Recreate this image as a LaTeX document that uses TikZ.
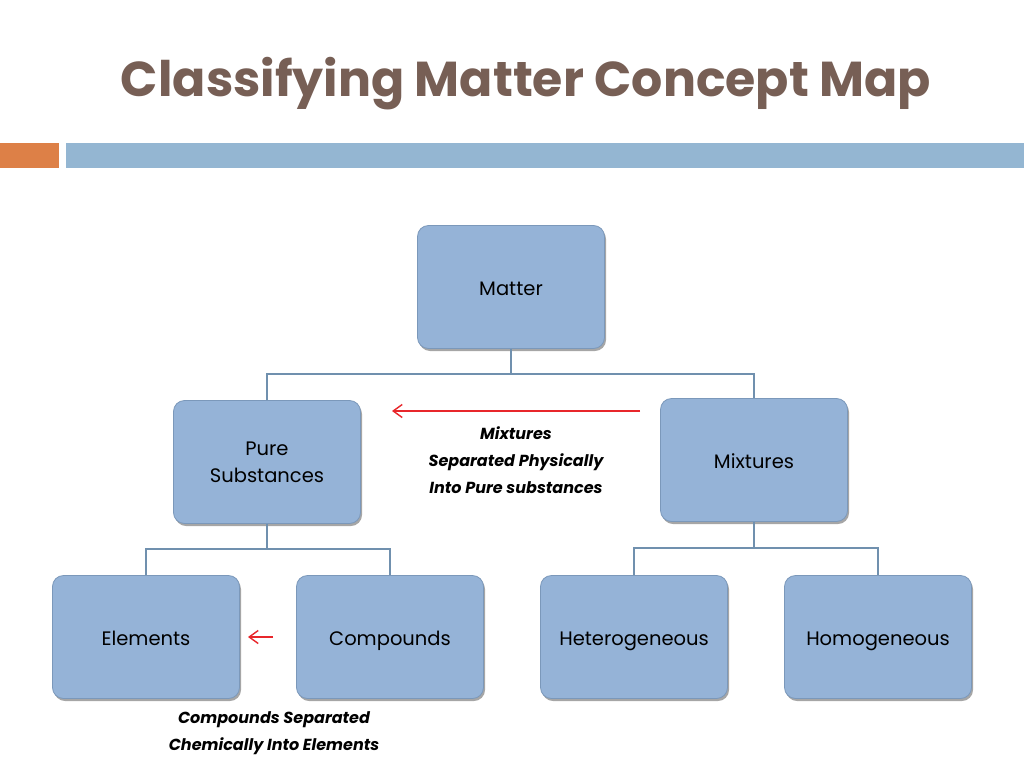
\documentclass[tikz,border=0pt]{standalone}
\usepackage{fontspec}
\setmainfont{Poppins}
\usetikzlibrary{shadows,arrows.meta}
\definecolor{boxfill}{HTML}{95B3D7}
\definecolor{boxline}{HTML}{7B98BA}
\definecolor{conn}{HTML}{7090AE}
\definecolor{titlec}{HTML}{775F55}
\definecolor{barorange}{HTML}{DD8047}
\definecolor{barblue}{HTML}{94B6D2}
\definecolor{arrred}{HTML}{E8262B}
\tikzset{
  concept/.style={draw=boxline, line width=0.8pt, fill=boxfill, rounded corners=11pt,
    minimum width=187pt, minimum height=123pt, align=center, font=\fontsize{19.5}{27}\selectfont,
    text=black, drop shadow={shadow xshift=1.5pt, shadow yshift=-2.5pt, opacity=0.35, fill=black}},
  oneline/.style={concept, text height=21pt, text depth=4pt},
  link/.style={draw=conn, line width=2pt},
  redarrow/.style={draw=arrred, line width=1.4pt, -{Straight Barb[length=9pt,width=13pt]}},
  note/.style={align=center, font=\fontsize{16}{27}\selectfont\bfseries\itshape, text=black}
}
\begin{document}
\begin{tikzpicture}[x=1pt,y=-1pt]
\useasboundingbox (0,0) rectangle (1024,768);
\fill[white] (0,0) rectangle (1024,768);
% header
\node[font=\fontsize{49}{58}\selectfont\bfseries, text=titlec] (title) at (526,84) {Classifying Matter Concept Map};
\fill[barorange] (0,143) rectangle (59,168);
\fill[barblue] (66,143) rectangle (1024,168);
% nodes
\node[oneline] (matter) at (511,287) {Matter};
\node[concept] (pure) at (267,462) {Pure\\Substances};
\node[oneline] (mix) at (754,460) {Mixtures};
\node[oneline] (elem) at (146,637) {Elements};
\node[oneline] (comp) at (390,637) {Compounds};
\node[oneline] (het) at (634,637) {Heterogeneous};
\node[oneline] (hom) at (878,637) {Homogeneous};
% connectors
\coordinate (j1) at (511,374);
\coordinate (j2) at (267,549);
\coordinate (j3) at (754,548);
\draw[link] (matter.south) -- (j1);
\draw[link] (pure.north) |- (j1) -| (mix.north);
\draw[link] (pure.south) -- (j2);
\draw[link] (elem.north) |- (j2) -| (comp.north);
\draw[link] (mix.south) -- (j3);
\draw[link] (het.north) |- (j3) -| (hom.north);
% red arrows
\coordinate (a1s) at (640,411);
\coordinate (a1e) at (392,411);
\draw[redarrow] (a1s) -- (a1e);
\coordinate (a2s) at (273,637);
\coordinate (a2e) at (248,637);
\draw[redarrow] (a2s) -- (a2e);
% notes
\node[note] (n1) at (516,460) {Mixtures\\Separated Physically\\Into Pure substances};
\node[note] (n2) at (274,733) {Compounds Separated\\Chemically Into Elements};
\end{tikzpicture}
\end{document}
